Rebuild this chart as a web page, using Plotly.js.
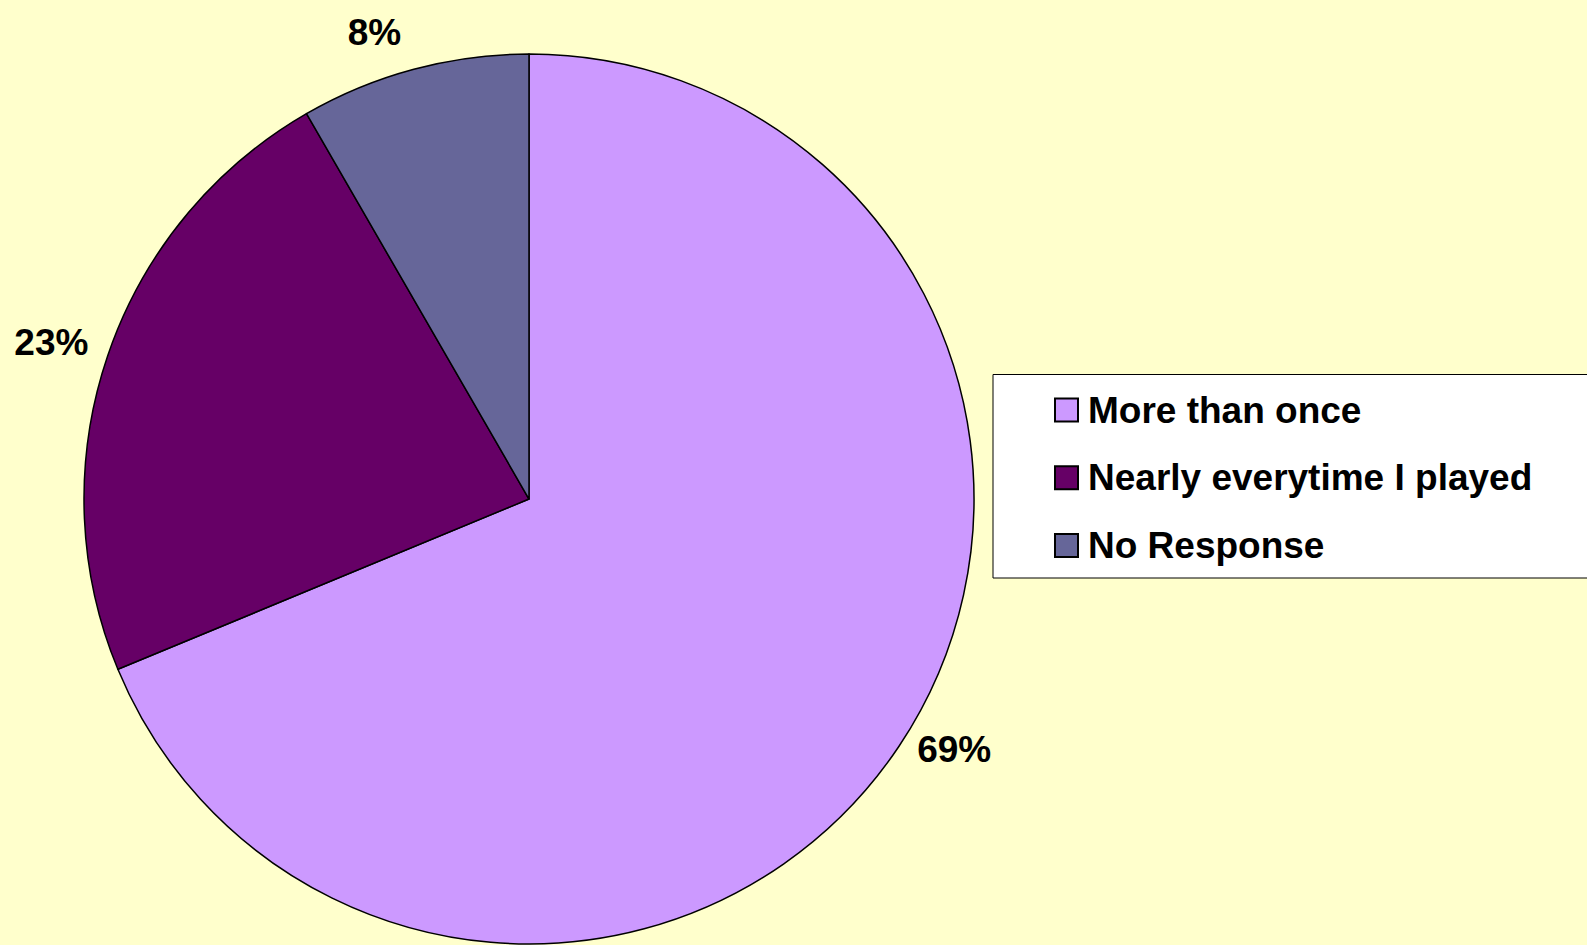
<!DOCTYPE html>
<html>
<head>
<meta charset="utf-8">
<script src="https://cdn.plot.ly/plotly-3.0.1.min.js"></script>
<style>html,body{margin:0;padding:0;background:#FFFFCC;}#chart{width:1587px;height:945px;}</style>
</head>
<body>
<div id="chart"></div>
<script>
// Data
var categories = ["More than once", "Nearly everytime I played", "No Response"];
var values = [33, 11, 4];
var colors = ["#CC99FF", "#660066", "#666699"];

var W = 1587, H = 945;
var cx = 529, cy = 499, R = 445, RL = 463;
var FONT = "Liberation Sans, Arial, sans-serif";

function dom(r) {
  return {x: [(cx - r) / W, (cx + r) / W], y: [(H - cy - r) / H, (H - cy + r) / H]};
}

var pieTrace = {
  type: "pie",
  labels: categories,
  values: values,
  sort: false,
  direction: "clockwise",
  rotation: 0,
  marker: {colors: colors, line: {color: "#000000", width: 1.5}},
  textinfo: "none",
  hoverinfo: "none",
  domain: dom(R),
  showlegend: false
};

// Invisible companion pie, slightly larger, which carries the outside percentage labels
var labelTrace = {
  type: "pie",
  labels: categories,
  values: values,
  sort: false,
  direction: "clockwise",
  rotation: 0,
  marker: {colors: ["rgba(0,0,0,0)", "rgba(0,0,0,0)", "rgba(0,0,0,0)"], line: {width: 0}},
  textposition: "outside",
  texttemplate: "%{percent:.0%}",
  textfont: {family: FONT, size: 37, color: "#000000", weight: "bold"},
  hoverinfo: "none",
  domain: dom(RL),
  showlegend: false
};

// Legend built from categories
var legTop = 374.5, legBottom = 578, legLeft = 993;
var rowY0 = 410, rowGap = 67.7, sq = 23, sqX = 1055, txtX = 1086;
var shapes = [{
  type: "rect", xref: "paper", yref: "paper",
  x0: legLeft / W, x1: 1.01, y0: 1 - legBottom / H, y1: 1 - legTop / H,
  fillcolor: "#FFFFFF", line: {color: "#000000", width: 1}, layer: "below"
}];
var annotations = [];
categories.forEach(function (c, i) {
  var yc = rowY0 + rowGap * i;
  shapes.push({
    type: "rect", xref: "paper", yref: "paper",
    x0: sqX / W, x1: (sqX + sq) / W,
    y0: 1 - (yc + sq / 2) / H, y1: 1 - (yc - sq / 2) / H,
    fillcolor: colors[i], line: {color: "#000000", width: 2}
  });
  annotations.push({
    xref: "paper", yref: "paper", x: txtX / W, y: 1 - yc / H,
    xanchor: "left", yanchor: "middle", showarrow: false,
    text: "<b>" + c + "</b>",
    font: {family: FONT, size: 37, color: "#000000"}
  });
});

var layout = {
  width: W, height: H,
  margin: {l: 0, r: 0, t: 0, b: 0},
  paper_bgcolor: "#FFFFCC",
  plot_bgcolor: "#FFFFCC",
  showlegend: false,
  shapes: shapes,
  annotations: annotations
};

Plotly.newPlot("chart", [pieTrace, labelTrace], layout, {displayModeBar: false, staticPlot: true});
</script>
</body>
</html>
